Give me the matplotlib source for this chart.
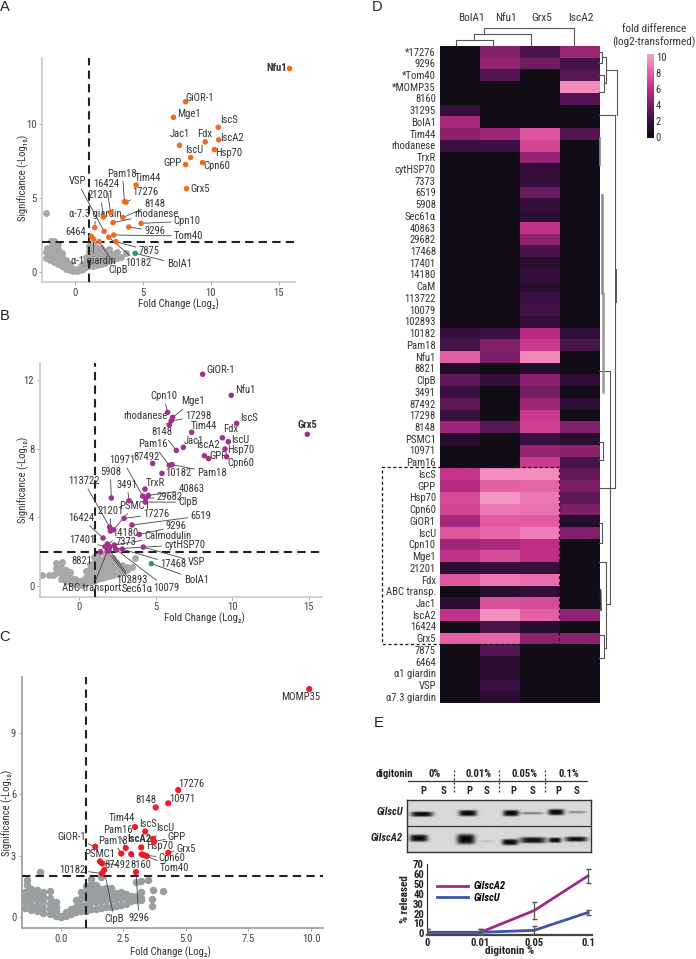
import logging
import numpy as np
import matplotlib
matplotlib.use("Agg")
import matplotlib.pyplot as plt
from matplotlib.colors import LinearSegmentedColormap

logging.getLogger('matplotlib.font_manager').setLevel(logging.ERROR)
plt.rcParams['font.family'] = ['Liberation Sans Narrow', 'Roboto Condensed', 'Open Sans Condensed',
                               'Noto Sans Condensed', 'Lato', 'DejaVu Sans']

W, H = 696, 959
TXT = '#333333'
FS = 7.7

# ---------- panel A ----------
a_names = ['Nfu1', 'GiOR-1', 'Mge1', 'IscS', 'Jac1', 'Fdx', 'IscA2', 'IscU', 'Hsp70', 'GPP', 'Cpn60', 'Grx5',
           'Tim44', 'Pam18', '17276', '16424', '21201', '8148', 'rhodanese', 'Cpn10', '9296', 'α-7.3 giardin',
           'VSP', 'Tom40', '6464', '10182', 'α-1 giardin', 'ClpB', '7875', 'BolA1']
a_fc = [15.8, 8.13, 7.24, 10.54, 7.68, 9.58, 10.57, 8.5, 10.25, 8.13, 9.38, 8.2,
        4.48, 3.62, 3.74, 2.59, 2.07, 3.5, 2.78, 4.85, 3.94, 1.43,
        2.12, 2.83, 1.18, 2.46, 1.35, 1.75, 3.0, 4.41]
a_sig = [13.75, 11.5, 10.45, 9.77, 8.55, 8.78, 8.92, 7.72, 8.26, 7.25, 7.38, 5.62,
         5.87, 4.74, 4.7, 4.02, 3.7, 3.66, 3.32, 3.27, 3.02, 2.98,
         2.73, 2.48, 2.39, 2.33, 2.19, 2.03, 2.03, 1.24]
a_off = [(-13, 0), (14, 4), (15, 3), (11, 7), (0, 11), (-1, 8), (13, 2), (4, 8), (14, -3), (-13, 2), (14, -3), (14, 0),
         (12, 7), (-2, 28), (19, 10), (-4, 28), (-3, 22), (32, 14), (43, 9), (46, 2), (26, -4), (1, 14),
         (-27, 50), (75, -1), (-16, 4), (30, -26), (0, -22), (19, -28), (33, -9), (44, -11)]
a_noline = ['Nfu1', 'GiOR-1', 'Mge1', 'IscS', 'Jac1', 'Fdx', 'IscA2', 'IscU', 'Hsp70', 'GPP', 'Cpn60', 'Grx5', 'Tim44']
a_grey = [(-2.2, 4.0), (-2.2, 0.9), (-2.2, 1.3), (-2.1, 1.6), (-1.8, 2.1), (-1.6, 2.05), (-1.3, 1.9), (-1.9, 0.8),
          (-1.9, 1.2), (-1.9, 1.6), (-1.6, 0.65), (-1.6, 1.0), (-1.6, 1.4), (-1.6, 1.7), (-1.3, 0.5), (-1.3, 0.85),
          (-1.3, 1.2), (-1.3, 1.5), (-1.0, 0.35), (-1.0, 0.65), (-1.0, 1.0), (-1.0, 1.25), (-0.7, 0.2), (-0.7, 0.5),
          (-0.7, 0.8), (-0.4, 0.08), (-0.4, 0.3), (-0.4, 0.55), (-0.15, 0.02), (-0.1, 0.2), (0.1, 0.02), (0.2, 0.15),
          (0.4, 0.1), (0.4, 0.35), (0.6, 0.2), (0.6, 0.5), (0.8, 0.3), (0.8, 0.65), (0.8, 1.0), (1.0, 0.35),
          (1.0, 0.7), (1.0, 1.05), (1.0, 1.4), (1.0, 1.75), (1.3, 0.4), (1.3, 0.8), (1.3, 1.2), (1.3, 1.6),
          (1.3, 1.9), (1.6, 0.45), (1.6, 0.8), (1.6, 1.2), (1.6, 1.6), (1.9, 0.5), (1.9, 0.9), (1.9, 1.3),
          (1.9, 1.6), (2.2, 0.6), (2.2, 1.0), (2.2, 1.4), (2.5, 0.7), (2.5, 1.1), (2.5, 1.5), (2.8, 0.8),
          (2.8, 1.2), (3.1, 0.9), (3.1, 1.3), (3.4, 1.0), (3.7, 1.25)]

# ---------- panel B ----------
b_names = ['GiOR-1', 'Nfu1', 'Grx5', 'IscS', 'Mge1', 'Cpn10', '17298', 'rhodanese', 'Tim44', 'Fdx', 'IscU', 'Hsp70',
           'Jac1', '8148', 'IscA2', 'GPP', 'Cpn60', 'Pam16', 'Pam18', '87492', '10182', '10971', '5908', 'TrxR',
           '40863', '29682', 'ClpB', '3491', '113722', 'PSMC1', '17276', '21201', '6519', '9296', '16424', '14180',
           'Calmodulin', '7373', 'cytHSP70', '17401', 'VSP', '17468', 'BolA1', '10079', '102893', 'Sec61α',
           'ABC transport.', '8821']
b_fc = [8.06, 9.93, 14.9, 10.28, 6.1, 5.77, 6.0, 5.88, 7.34, 9.35, 9.74, 9.52,
        6.8, 6.34, 8.17, 8.45, 9.63, 5.88, 6.06, 4.79, 5.4, 4.14, 2.09, 4.29,
        4.51, 4.34, 4.31, 3.25, 1.98, 2.22, 2.92, 2.03, 3.44, 3.92, 1.55, 1.83,
        2.29, 2.0, 2.37, 1.68, 4.18, 2.81, 4.71, 2.44, 1.94, 1.83, 1.85, 1.39]
b_sig = [12.36, 11.13, 8.85, 9.49, 9.84, 10.14, 9.63, 9.4, 8.97, 8.65, 8.42, 7.99,
         8.09, 7.91, 7.6, 7.43, 7.54, 7.04, 7.08, 7.15, 6.57, 5.24, 5.13, 5.65,
         5.28, 5.11, 4.89, 4.97, 3.43, 3.27, 3.94, 3.2, 3.55, 3.0, 2.79, 2.44,
         2.38, 2.28, 2.16, 2.28, 2.26, 2.14, 1.29, 2.09, 2.09, 2.03, 2.05, 1.99]
b_off = [(18, 4), (14, 5), (0, 9), (12, 5), (20, 16), (-4, 16), (27, 5), (-24, 9), (12, 6), (8, 9), (12, 2), (16, -1),
         (11, 6), (-14, 18), (4, 11), (10, 3), (14, -6), (-16, 21), (40, -8), (-6, 6), (16, 0), (-20, 36), (-1, 26), (10, 6),
         (43, 6), (24, 1), (43, 0), (-2, 16), (-26, 46), (21, 24), (32, 4), (0, 20), (69, 9), (37, 8), (-22, 20), (18, 11),
         (54, 9), (16, 5), (69, 4), (-23, 7), (53, -15), (51, -15), (45, -16), (50, -38), (23, -30), (30, -38),
         (-15, -37), (-19, -9)]
b_noline = ['GiOR-1', 'Nfu1', 'Grx5', 'IscS', 'Tim44', 'Fdx', 'IscU', 'Hsp70', 'Jac1', 'IscA2', 'GPP', 'Cpn60',
            '87492', '10182', 'TrxR']
b_grey = [(-2.45, 0.62), (-2.0, 0.65), (-1.7, 0.6), (-1.5, 0.75), (-1.5, 1.05), (-1.5, 1.35), (-1.2, 0.4), (-1.2, 0.75),
          (-1.2, 1.1), (-1.1, 1.4), (-0.9, 0.3), (-0.9, 0.6), (-0.9, 0.9), (-0.6, 0.2), (-0.6, 0.5), (-0.6, 0.8),
          (-0.3, 0.1), (-0.3, 0.4), (-0.05, 0.02), (-0.05, 0.25), (0.15, 0.05), (0.25, 0.35), (0.45, 0.15), (0.45, 0.5),
          (0.45, 0.85), (0.7, 0.25), (0.7, 0.6), (0.7, 0.95), (0.7, 1.25), (0.95, 0.3), (0.95, 0.65), (0.95, 1.0),
          (0.95, 1.35), (0.95, 1.7), (1.2, 0.4), (1.2, 0.75), (1.2, 1.1), (1.2, 1.45), (1.2, 1.8), (1.45, 0.45),
          (1.45, 0.8), (1.45, 1.15), (1.45, 1.5), (1.7, 0.5), (1.7, 0.85), (1.7, 1.2), (1.7, 1.55), (1.7, 1.85),
          (1.95, 0.55), (1.95, 0.9), (1.95, 1.25), (1.95, 1.6), (2.2, 0.6), (2.2, 0.95), (2.2, 1.3), (2.2, 1.65),
          (2.5, 0.7), (2.5, 1.05), (2.8, 0.8), (2.8, 1.2), (3.1, 0.9), (3.1, 1.1), (3.45, 1.1), (3.65, 1.6), (2.4, 1.4)]

# ---------- panel C ----------
c_names = ['MOMP35', '17276', '10971', '8148', 'Tim44', 'IscS', 'IscU', 'GPP', 'Pam16', 'Pam18', 'IscA2', 'Hsp70',
           'GiOR-1', 'PSMC1', '87492', '8160', 'Grx5', 'Cpn60', 'Tom40', '10182', 'ClpB', '9296']
c_fc = [9.93, 4.69, 4.29, 3.79, 2.96, 3.37, 3.68, 3.72, 2.59, 2.41, 3.21, 3.23,
        1.37, 1.56, 1.65, 2.81, 4.29, 3.32, 3.43, 1.63, 1.73, 3.0]
c_sig = [11.16, 6.21, 5.56, 5.36, 4.4, 4.18, 3.82, 3.68, 3.37, 3.1, 3.4, 3.06,
         3.43, 2.71, 2.61, 3.07, 3.14, 3.02, 2.97, 2.12, 2.29, 2.19]
c_off = [(-9, -8), (13, 6), (14, 4), (-10, 7), (-13, 9), (3, 7), (12, 11), (23, 5), (-8, 18), (-8, 13), (-2, 8), (18, 8),
         (-24, 10), (0, 7), (15, -1), (10, -11), (18, 4), (28, -3), (28, -12), (-29, 4), (10, -49), (3, -46)]
c_noline = ['MOMP35', '17276', '10971', '8148', 'Tim44', 'IscS', 'IscA2', 'PSMC1']
c_grey = [(-1.45, 0.45), (-1.45, 0.7), (-1.45, 0.95), (-1.45, 1.2), (-1.37, 1.55), (-1.37, 1.8), (-0.84, 2.2),
          (-1.2, 0.35), (-1.2, 0.6), (-1.2, 0.85), (-1.2, 1.1), (-1.2, 1.35),
          (-0.95, 0.3), (-0.95, 0.55), (-0.95, 0.8), (-0.95, 1.05), (-0.95, 1.3),
          (-0.7, 0.2), (-0.7, 0.45), (-0.7, 0.7), (-0.7, 0.95), (-0.7, 1.2),
          (-0.45, 0.15), (-0.45, 0.4), (-0.45, 0.65), (-0.45, 0.9), (-0.45, 1.25),
          (-0.2, 0.05), (-0.2, 0.3), (-0.2, 0.5), (-0.2, 0.7), (0.0, 0.0), (0.0, 0.05), (0.2, 0.05), (0.2, 0.25),
          (0.4, 0.15), (0.4, 0.4), (0.6, 0.25), (0.6, 0.5), (0.6, 0.8),
          (0.8, 0.3), (0.8, 0.6), (0.8, 0.9), (0.8, 1.2), (1.0, 0.3), (1.0, 0.6), (1.0, 0.9), (1.0, 1.2), (1.0, 1.5),
          (1.2, 0.4), (1.2, 0.7), (1.2, 1.0), (1.2, 1.3), (1.2, 1.6), (1.2, 1.85),
          (1.4, 0.4), (1.4, 0.7), (1.4, 1.0), (1.4, 1.3), (1.4, 1.55),
          (1.6, 0.45), (1.6, 0.75), (1.6, 1.05), (1.6, 1.35), (1.6, 1.95),
          (1.8, 0.5), (1.8, 0.8), (1.8, 1.1), (1.8, 1.4), (2.0, 0.5), (2.0, 0.8), (2.0, 1.1), (2.0, 1.4),
          (2.2, 0.55), (2.2, 0.85), (2.2, 1.15), (2.4, 0.6), (2.4, 0.9), (2.4, 1.2),
          (2.6, 0.65), (2.6, 0.95), (2.6, 1.1), (2.8, 0.75), (2.8, 1.0), (3.0, 0.8), (3.0, 1.0), (3.0, 1.7),
          (3.2, 0.8), (3.2, 0.9), (3.2, 1.2), (3.2, 1.75), (3.5, 1.8), (3.65, 0.55), (3.65, 0.85), (3.7, 1.3), (4.07, 1.25)]

# ---------- panel D ----------
d_cols = ['BolA1', 'Nfu1', 'Grx5', 'IscA2']
d_rows = ['*17276', '9296', '*Tom40', '*MOMP35', '8160', '31295', 'BolA1', 'Tim44', 'rhodanese', 'TrxR', 'cytHSP70',
          '7373', '6519', '5908', 'Sec61α', '40863', '29682', '17468', '17401', '14180', 'CaM', '113722', '10079',
          '102893', '10182', 'Pam18', 'Nfu1', '8821', 'ClpB', '3491', '87492', '17298', '8148', 'PSMC1', '10971',
          'Pam16', 'IscS', 'GPP', 'Hsp70', 'Cpn60', 'GiOR1', 'IscU', 'Cpn10', 'Mge1', '21201', 'Fdx', 'ABC transp.',
          'Jac1', 'IscA2', '16424', 'Grx5', '7875', '6464', 'α1 giardin', 'VSP', 'α7.3 giardin']
d_bola1 = [0, 0, 0, 0, 0, 1.6, 5.3, 4.5, 1.8, 0, 0, 0, 0, 0, 0, 0, 0, 0, 0, 0, 0, 0, 0, 0, 1.7, 2.3, 8, 0.8, 3.2, 1.8,
           3.2, 1.7, 5, 1, 0, 0, 6.3, 5.7, 7.2, 7, 5.2, 7.6, 5, 6.2, 1.2, 7.6, 0, 1.2, 6.2, 0, 8, 0, 0, 0, 0, 0]
d_nfu1 = [4.3, 4.8, 2.8, 0, 0, 0, 0, 5, 2, 0, 0, 0, 0, 0, 0, 0, 0, 0, 0, 0, 0, 0, 0, 0, 2.1, 4.2, 4, 0, 1.5, 0,
          0, 0, 3, 0, 0, 0, 9.5, 8, 9.8, 8.8, 7.8, 8.2, 5.4, 7.2, 1.7, 8.8, 0.9, 7.4, 9.6, 2.5, 8.2, 2.8, 1.2, 1.2, 2, 1.2]
d_grx5 = [2.5, 3.6, 0, 0, 0, 0, 0, 7.5, 7, 4.8, 1.5, 1.7, 3.5, 1.7, 1.4, 6.2, 4.6, 2.4, 1.1, 1.7, 1.1, 1.9, 2.2, 1.5,
          5.8, 6.5, 9.3, 1, 4.5, 3.8, 5, 6.5, 6.7, 1.9, 4.7, 6.6, 9.5, 8.2, 8.8, 8.6, 7.8, 9, 6, 6, 1.7, 8.5, 1.5, 7.2,
          8, 1, 4.5, 0, 0, 0, 0, 0]
d_isca2 = [5, 2.3, 3, 9.5, 2.8, 0, 0, 2.8, 0, 0, 0, 0, 0, 0, 0, 0, 0, 0, 0, 0, 0, 0, 0, 0, 1.5, 2.4, 0, 0, 1.4, 0,
           1.3, 0, 4.2, 1.1, 4.5, 2.3, 3.3, 4, 3.2, 4, 1, 4.2, 0, 0, 0, 0, 0, 0, 4.6, 0, 4.5, 0, 0, 0, 0, 0]
d_ticks = [0, 2, 4, 6, 8, 10]

# ---------- panel E ----------
e_lanes = ['0%', '0.01%', '0.05%', '0.1%']
e_ticks = ['0', '0.01', '0.05', '0.1']
e_isca2 = [1, 1, 23, 58]
e_isca2_err = [3, 3, 9, 7]
e_iscu = [1, 1, 3, 21]
e_iscu_err = [3, 3, 4, 3]
# blot bands: lane centre, half width, centre y, half height, darkness
band_x = [422, 468, 511, 532, 556, 577, 419, 466, 487, 510, 533, 555, 576]
band_w = [11, 9, 8, 11, 8, 9, 9, 9, 7, 8, 13, 6, 11]
band_y = [814, 813, 813, 813, 812, 812, 838, 839, 841, 842, 840, 840, 839]
band_h = [2.5, 3, 3, 1.2, 3, 1.3, 3.5, 5, 1, 3, 3, 2.5, 2.5]
band_d = [1, 1, 1, 0.45, 1, 0.35, 1, 1, 0.12, 1, 0.95, 1, 0.95]

heat_cmap = LinearSegmentedColormap.from_list('heat', ['#120c16', '#3d1045', '#7a1f68', '#c02e88', '#e460a4', '#f79cc6'])

fig = plt.figure(figsize=(W / 100, H / 100), dpi=100)


def px_axes(l, t, r, b):
    return fig.add_axes([l / W, 1 - b / H, (r - l) / W, (b - t) / H])


def volcano(box, xlim, ylim, xticks, yticks, xfmt, grey, names, fc, sig, off, noline, color, size,
            grey_c, spine, xlab_at, ylab_at):
    ax = px_axes(*box)
    ax.set_xlim(xlim)
    ax.set_ylim(ylim)
    for s in ['top', 'right']:
        ax.spines[s].set_visible(False)
    for s in ['left', 'bottom']:
        ax.spines[s].set_color(spine)
        ax.spines[s].set_linewidth(1.2)
    ax.set_xticks(xticks)
    ax.set_xticklabels([xfmt % v for v in xticks])
    ax.set_yticks(yticks)
    ax.tick_params(length=2, width=0.6, color='#999999', labelsize=FS, labelcolor='#444444', pad=2)
    gx, gy = np.array(grey).T
    ax.scatter(gx, gy, s=size + 9, c=grey_c, linewidths=0, zorder=2)
    ax.axvline(1, color='#222222', lw=1.5, dashes=(4, 2.5), zorder=3)
    ax.axhline(2, color='#222222', lw=1.5, dashes=(4, 2.5), zorder=3)
    cols = ['#2aa05a' if n == 'BolA1' and color != '#ed1c24' else color for n in names]
    ax.scatter(fc, sig, s=size, c=cols, linewidths=0, zorder=5, clip_on=False)
    for n, x, y, o in zip(names, fc, sig, off):
        props = None if n in noline else dict(arrowstyle='-', color='#444444', lw=0.6, shrinkA=0, shrinkB=0)
        bold = n == 'Nfu1' and color == '#f26a21' or n == 'Grx5' and color == '#a3308f' or n == 'IscA2' and color == '#ed1c24'
        ax.annotate(n, (x, y), xytext=o, textcoords='offset pixels', ha='center', va='center', fontsize=FS,
                    color=TXT, fontweight='bold' if bold else 'normal', arrowprops=props, zorder=4, annotation_clip=False)
    ax.set_xlabel('Fold Change (Log₂)', fontsize=FS, color=TXT)
    ax.set_ylabel('Significance (-Log₁₀)', fontsize=FS, color=TXT)
    ax.xaxis.set_label_coords((xlab_at[0] - box[0]) / (box[2] - box[0]), (box[3] - xlab_at[1]) / (box[3] - box[1]))
    ax.yaxis.set_label_coords((ylab_at[0] - box[0]) / (box[2] - box[0]), (box[3] - ylab_at[1]) / (box[3] - box[1]))
    ax.xaxis.label.set_va('center')
    ax.yaxis.label.set_va('center')
    ax.patch.set_alpha(0)
    return ax


volcano((42, 58, 295, 282), (-2.46, 16.2), (-0.7, 14.46), [0, 5, 10, 15], [0, 5, 10], '%d', a_grey,
        a_names, a_fc, a_sig, a_off, a_noline, '#f26a21', 16, '#a8a8a8', '#c8c8c8', (178, 304), (23, 178))
volcano((39.7, 363, 322, 596.7), (-2.59, 15.86), (-0.64, 13.02), [0, 5, 10, 15], [0, 4, 8, 12], '%d', b_grey,
        b_names, b_fc, b_sig, b_off, b_noline, '#a3308f', 16, '#a8a8a8', '#c8c8c8', (204, 618), (23, 480))
volcano((21.7, 677, 323, 928), (-1.57, 10.48), (-0.55, 11.75), [0, 2.5, 5, 7.5, 10], [0, 3, 6, 9], '%.1f', c_grey,
        c_names, c_fc, c_sig, c_off, c_noline, '#ed1c24', 20, '#999ea0', '#999999', (170, 952), (7, 813))

# heatmap
ax = px_axes(440, 45.7, 599.3, 702.7)
d_vals = np.array([d_bola1, d_nfu1, d_grx5, d_isca2]).T
ax.imshow(d_vals, cmap=heat_cmap, vmin=0, vmax=10, aspect='auto', interpolation='nearest')
ax.set_xticks([])
ax.set_yticks(range(len(d_rows)))
ax.set_yticklabels(d_rows, fontsize=FS, color=TXT)
ax.tick_params(length=0, pad=3)
for s in ax.spines.values():
    s.set_visible(False)

# colour bar
cax = px_axes(646.7, 54, 653, 138.3)
grad = np.linspace(10.4, -0.15, 128).reshape(-1, 1)
cax.imshow(grad, cmap=heat_cmap, vmin=0, vmax=10, aspect='auto', extent=(0, 1, -0.15, 10.4))
cax.set_xticks([])
cax.yaxis.tick_right()
cax.set_yticks(d_ticks)
cax.tick_params(length=0, labelsize=FS, labelcolor=TXT, pad=2)
for s in cax.spines.values():
    s.set_visible(False)

# blot, drawn as an image from the band table
bax = px_axes(407.3, 800, 590.7, 851.7)
xx, yy = np.meshgrid(np.linspace(407.3, 590.7, 550), np.linspace(800, 851.7, 155))
gel = np.zeros_like(xx)
for bx, bw, by, bh, bd in zip(band_x, band_w, band_y, band_h, band_d):
    gel += bd * np.exp(-((xx - bx) / bw) ** 4) * np.exp(-((yy - by) / bh) ** 4)
gel = 0.85 - 0.82 * np.clip(gel, 0, 1)
bax.imshow(gel, cmap='gray', vmin=0, vmax=1, aspect='auto', extent=(407.3, 590.7, 851.7, 800))
bax.axhline(826, color='#333333', lw=0.9)
bax.set_xticks([])
bax.set_yticks([])
for s in bax.spines.values():
    s.set_color('#333333')
    s.set_linewidth(1)

# release curve
eax = px_axes(426.7, 864, 591.7, 935)
ex = np.arange(len(e_ticks))
eax.plot(ex, e_isca2, color='#a0288c', lw=2, label='GiIscA2', zorder=3)
eax.plot(ex, e_iscu, color='#3b55a8', lw=2, label='GiIscU', zorder=3)
eax.errorbar(ex, e_isca2, yerr=e_isca2_err, fmt='none', ecolor='#555555', elinewidth=0.9, capsize=1.8, zorder=4)
eax.errorbar(ex, e_iscu, yerr=e_iscu_err, fmt='none', ecolor='#555555', elinewidth=0.9, capsize=1.8, zorder=4)
eax.set_xlim(0, 3.07)
eax.set_ylim(-1.7, 70)
eax.set_xticks(ex)
eax.set_xticklabels(e_ticks, fontweight='bold', fontsize=FS, color='#222222')
eax.set_yticks(range(0, 71, 10))
eax.set_yticklabels(range(0, 71, 10), fontweight='bold', fontsize=FS, color='#222222')
eax.tick_params(length=0, pad=2)
eax.spines['top'].set_visible(False)
eax.spines['right'].set_visible(False)
eax.spines['bottom'].set_linewidth(1.6)
eax.spines['bottom'].set_color('#444444')
eax.spines['left'].set_color('#222222')
eax.set_xlabel('digitonin %', fontweight='bold', fontsize=FS + 0.3, color='#222222', labelpad=-1)
eax.set_ylabel('% released', fontweight='bold', fontsize=FS + 0.3, color='#222222', labelpad=2)
eax.patch.set_alpha(0)
leg = eax.legend(loc='upper left', bbox_to_anchor=(0.03, 0.83), frameon=False, handlelength=2.9, handletextpad=0.5,
                 labelspacing=0.15, borderpad=0, prop=dict(size=FS, weight='bold', style='italic'))

# overlay in image pixels for the panel letters, dendrograms and gel annotation
ov = fig.add_axes([0, 0, 1, 1], zorder=10)
ov.set_xlim(0, W)
ov.set_ylim(H, 0)
ov.axis('off')
for letter, x, y in [('A', 5, 7), ('B', 5, 316), ('C', 5, 637), ('D', 377, 7), ('E', 379, 723)]:
    ov.text(x, y, letter, fontsize=10.5, family='Liberation Sans', color='#222222', ha='center', va='center')
for name, x in zip(d_cols, [471.7, 505.7, 542, 580.7]):
    ov.text(x, 18, name, fontsize=FS + 0.5, color=TXT, ha='center', va='center')
ov.text(654, 29, 'fold difference', fontsize=FS + 0.3, color=TXT, ha='center', va='center')
ov.text(654, 42.3, '(log2-transformed)', fontsize=FS + 0.3, color=TXT, ha='center', va='center')

# top dendrogram
top_tree = [[(455.7, 45), (455.7, 39.7), (493.3, 39.7), (493.3, 45)],
            [(474.3, 39.7), (474.3, 34.3), (531.3, 34.3), (531.3, 45)],
            [(484.3, 34.3), (484.3, 28.3), (574.3, 28.3), (574.3, 45)]]
for seg in top_tree:
    xs, ys = zip(*seg)
    ov.plot(xs, ys, color='#555555', lw=0.8)

# side dendrogram
side_tree = [[(599.3, 51.7), (601.7, 51.7), (601.7, 63.3), (599.3, 63.3)],
             [(601.7, 57.3), (606, 57.3), (606, 83), (604, 83)],
             [(599.3, 75), (604, 75), (604, 92), (599.3, 92)],
             [(606, 70), (616.7, 70), (616.7, 115)],
             [(599.3, 115), (615.3, 115), (615.3, 488), (599.3, 488)],
             [(599.3, 371), (610, 371), (610, 604), (605.7, 604)],
             [(599.3, 561.7), (605.7, 561.7), (605.7, 648), (604, 648)],
             [(599.3, 635), (604, 635), (604, 658), (599.3, 658)],
             [(599.3, 522.7), (601.7, 522.7), (601.7, 543), (599.3, 543)],
             [(599.3, 441.7), (603.3, 441.7), (603.3, 460), (599.3, 460)]]
for seg in side_tree:
    xs, ys = zip(*seg)
    ov.plot(xs, ys, color='#555555', lw=0.8)
ov.plot([600, 600], [138, 165], color='#888888', lw=1.2)
ov.plot([602, 602], [195, 293], color='#888888', lw=1.8)
ov.plot([603.3, 603.3], [293, 391.7], color='#999999', lw=1.8)
ov.plot([616.2, 616.2], [270, 302], color='#555555', lw=1.4)
ov.plot([600.5, 601], [590, 610], color='#333333', lw=1.2)

# dashed box around the Fe-S group
ov.plot([558.7, 382.3, 382.3, 558.7, 558.7], [467, 467, 643.7, 643.7, 467], color='#111111', lw=0.9, dashes=(2.5, 2))

# gel annotation
ov.text(394.5, 774, 'digitonin', fontsize=FS, fontweight='bold', color='#222222', ha='center', va='center')
for name, x in zip(e_lanes, [434.7, 478.5, 524.5, 568.5]):
    ov.text(x, 774, name, fontsize=FS, fontweight='bold', color='#222222', ha='center', va='center')
ov.plot([408, 587], [781, 781], color='#333333', lw=0.9)
for x in [453.7, 499.3, 545.3]:
    ov.plot([x, x], [770, 794], color='#333333', lw=0.9, dashes=(1.6, 1.6))
for x in [423.7, 469, 513, 558.3]:
    ov.text(x, 791, 'P', fontsize=FS, fontweight='bold', color='#222222', ha='center', va='center')
for x in [443.3, 486.7, 532.3, 577]:
    ov.text(x, 791, 'S', fontsize=FS, fontweight='bold', color='#222222', ha='center', va='center')
ov.text(403, 812, 'GiIscU', fontsize=FS, fontweight='bold', style='italic', color='#222222', ha='right', va='center')
ov.text(403, 838, 'GiIscA2', fontsize=FS, fontweight='bold', style='italic', color='#222222', ha='right', va='center')

fig.savefig('out.png', dpi=100)
